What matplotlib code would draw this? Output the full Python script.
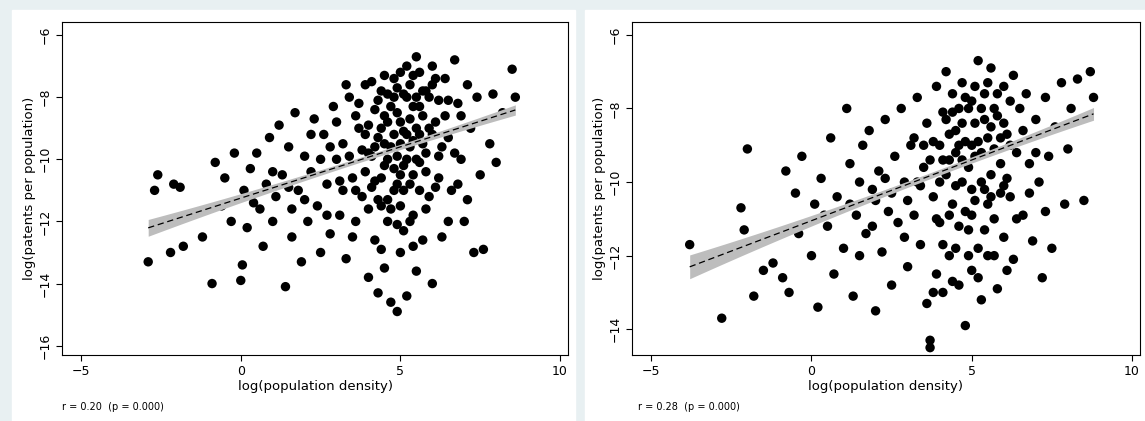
import numpy as np
import matplotlib
matplotlib.use("Agg")
import matplotlib.pyplot as plt
from matplotlib.patches import Rectangle

left_pts = [(-2.9,-13.3),(-2.7,-11.0),(-2.6,-10.5),(-2.2,-13.0),(-2.1,-10.8),(-1.9,-10.9),(-1.8,-12.8),(-1.2,-12.5),(-0.9,-14.0),(-0.8,-10.1),(-0.6,-11.5),(-0.5,-10.6),(-0.3,-12.0),(-0.2,-9.8),(0.0,-13.9),(0.05,-13.4),(0.1,-11.0),(0.2,-12.2),(0.3,-10.3),(0.5,-9.8),(0.6,-11.6),(0.7,-12.8),(0.8,-10.8),(0.9,-9.3),(1.0,-12.0),(1.1,-11.2),(1.2,-8.9),(1.3,-10.5),(1.4,-14.1),(1.5,-9.6),(1.6,-12.5),(1.7,-8.5),(1.8,-11.0),(1.9,-13.3),(2.0,-9.9),(2.1,-12.0),(2.2,-10.4),(2.3,-8.7),(2.4,-11.5),(2.5,-13.0),(2.6,-9.2),(2.7,-10.8),(2.8,-12.4),(2.9,-8.3),(3.0,-10.0),(3.1,-11.8),(3.2,-9.5),(3.3,-13.2),(3.4,-8.0),(3.5,-10.6),(3.6,-12.0),(3.7,-9.0),(3.8,-11.2),(3.9,-7.6),(4.0,-13.8),(4.0,-9.8),(4.1,-10.9),(4.2,-8.4),(4.2,-12.6),(4.3,-14.3),(4.3,-9.3),(4.4,-11.5),(4.4,-7.8),(4.5,-10.2),(4.5,-13.5),(4.6,-8.8),(4.6,-12.0),(4.7,-14.6),(4.7,-9.6),(4.8,-7.4),(4.8,-11.0),(4.9,-14.9),(4.9,-8.5),(5.0,-10.5),(5.0,-13.0),(5.0,-7.2),(5.1,-9.1),(5.1,-12.3),(5.2,-8.0),(5.2,-14.4),(5.3,-10.8),(5.3,-7.6),(5.4,-11.8),(5.4,-9.4),(5.5,-6.7),(5.5,-13.6),(5.6,-8.3),(5.6,-10.1),(5.7,-12.6),(5.8,-7.8),(5.8,-9.8),(5.9,-11.2),(6.0,-7.0),(6.0,-14.0),(6.1,-8.8),(6.2,-10.6),(6.3,-12.5),(6.4,-7.4),(6.5,-9.3),(6.6,-11.0),(6.7,-6.8),(6.8,-8.2),(6.9,-10.0),(7.0,-12.0),(7.1,-7.6),(7.2,-9.0),(7.3,-13.0),(7.4,-8.0),(7.5,-10.5),(7.6,-12.9),(7.8,-9.5),(7.9,-7.9),(8.0,-10.1),(8.2,-8.5),(8.5,-7.1),(8.6,-8.0),
(3.6,-8.6),(3.8,-9.7),(3.9,-10.4),(4.0,-8.9),(4.1,-7.5),(4.1,-9.9),(4.2,-10.7),(4.3,-8.1),(4.3,-11.3),(4.4,-9.0),(4.5,-7.3),(4.5,-8.6),(4.6,-10.0),(4.6,-7.9),(4.7,-8.3),(4.7,-11.6),(4.8,-9.2),(4.8,-10.3),(4.9,-7.7),(4.9,-9.9),(5.0,-8.8),(5.0,-11.5),(5.1,-7.9),(5.1,-10.2),(5.2,-9.2),(5.2,-7.0),(5.3,-8.7),(5.3,-12.0),(5.4,-7.3),(5.4,-10.5),(5.5,-8.0),(5.5,-9.0),(5.6,-7.2),(5.6,-11.0),(5.7,-8.6),(5.7,-9.5),(5.8,-10.4),(5.9,-8.0),(6.0,-9.2),(6.0,-7.6),(6.1,-10.9),(6.2,-8.1),(6.3,-9.6),(6.4,-8.6),(3.0,-8.8),(3.2,-11.0),(3.4,-9.9),(3.5,-12.5),(2.5,-10.0),(2.0,-11.3),(1.5,-10.9),(1.0,-10.4),(2.8,-9.6),(3.3,-7.6),
(3.7,-8.2),(3.9,-9.2),(4.0,-11.6),(4.2,-9.6),(4.4,-10.6),(4.5,-9.5),(4.6,-11.3),(4.8,-8.0),(4.9,-10.8),(5.0,-9.5),(5.1,-11.0),(5.2,-10.0),(5.3,-9.6),(5.4,-8.3),(5.5,-10.0),(5.6,-9.2),(5.7,-7.8),(5.8,-11.6),(5.9,-9.0),(6.1,-7.4),(6.2,-9.9),(6.5,-8.1),(6.7,-9.8),(6.9,-8.6),(7.1,-11.3),(6.5,-12.0),(3.1,-10.7),(3.6,-11.0),(2.7,-11.8),(2.2,-9.2),(1.6,-11.6),(0.4,-11.4),(4.4,-12.9),(5.4,-12.8),(4.9,-12.1),(6.8,-10.8)]
right_pts = [(-3.8,-11.7),(-2.8,-13.7),(-2.2,-10.7),(-2.1,-11.3),(-2.0,-9.1),(-1.8,-13.1),(-1.5,-12.4),(-1.2,-12.2),(-0.9,-12.6),(-0.8,-9.7),(-0.7,-13.0),(-0.5,-10.3),(-0.4,-11.4),(-0.3,-9.3),(0.0,-12.0),(0.1,-10.6),(0.2,-13.4),(0.3,-9.9),(0.5,-11.2),(0.6,-8.8),(0.7,-12.5),(0.8,-10.4),(1.0,-11.8),(1.1,-8.0),(1.2,-9.5),(1.3,-13.1),(1.4,-10.9),(1.5,-12.0),(1.6,-9.0),(1.7,-11.4),(1.8,-8.6),(1.9,-10.2),(2.0,-13.5),(2.1,-9.7),(2.2,-11.9),(2.3,-8.3),(2.4,-10.8),(2.5,-12.8),(2.6,-9.3),(2.7,-11.1),(2.8,-8.0),(2.9,-10.0),(3.0,-12.3),(3.1,-9.0),(3.2,-10.9),(3.3,-7.7),(3.4,-11.7),(3.5,-9.6),(3.6,-13.3),(3.6,-8.4),(3.7,-14.3),(3.7,-14.5),(3.8,-10.4),(3.9,-7.4),(3.9,-12.5),(4.0,-9.0),(4.0,-11.1),(4.1,-8.1),(4.1,-13.0),(4.2,-9.8),(4.2,-7.0),(4.3,-12.0),(4.3,-8.7),(4.4,-10.6),(4.4,-7.6),(4.5,-11.8),(4.5,-9.2),(4.6,-8.0),(4.6,-12.8),(4.7,-10.0),(4.7,-7.3),(4.8,-13.9),(4.8,-8.9),(4.9,-11.3),(4.9,-9.6),(5.0,-7.8),(5.0,-12.4),(5.1,-10.5),(5.1,-8.4),(5.2,-6.7),(5.2,-11.8),(5.3,-9.2),(5.3,-13.2),(5.4,-7.6),(5.4,-10.2),(5.5,-8.8),(5.5,-12.0),(5.6,-6.9),(5.6,-9.8),(5.7,-11.0),(5.8,-8.2),(5.8,-12.9),(5.9,-9.5),(6.0,-7.4),(6.0,-11.5),(6.1,-8.7),(6.2,-10.4),(6.3,-7.1),(6.3,-12.1),(6.4,-9.2),(6.5,-8.0),(6.6,-10.9),(6.7,-7.6),(6.8,-9.5),(6.9,-11.6),(7.0,-8.3),(7.1,-10.0),(7.2,-12.6),(7.3,-7.7),(7.4,-9.3),(7.5,-11.8),(7.6,-8.5),(7.8,-7.3),(7.9,-10.6),(8.0,-9.1),(8.1,-8.0),(8.3,-7.2),(8.5,-10.5),(8.7,-7.0),(8.8,-7.7),
(3.5,-9.0),(3.8,-8.9),(4.0,-10.0),(4.2,-8.3),(4.3,-9.4),(4.4,-8.1),(4.5,-10.1),(4.6,-9.0),(4.7,-8.4),(4.8,-7.7),(4.8,-10.8),(4.9,-8.0),(5.0,-9.0),(5.0,-10.9),(5.1,-7.4),(5.2,-8.9),(5.3,-10.0),(5.4,-8.3),(5.5,-7.3),(5.5,-10.6),(5.6,-8.5),(5.7,-9.1),(5.8,-7.6),(5.9,-10.3),(6.0,-8.4),(6.1,-9.9),(6.2,-7.8),(3.0,-10.5),(3.2,-8.8),(2.5,-10.3),(2.0,-10.5),(1.5,-10.0),(3.4,-10.1),(4.1,-11.7),(4.6,-11.2),
(3.7,-9.4),(3.9,-11.0),(4.1,-9.4),(4.3,-10.9),(4.5,-8.6),(4.7,-9.4),(4.9,-12.0),(5.0,-10.2),(5.1,-9.3),(5.3,-8.0),(5.4,-11.3),(5.6,-10.4),(5.7,-8.0),(5.9,-8.8),(6.0,-10.1),(6.2,-9.0),(6.4,-11.0),(6.6,-8.6),(6.8,-10.3),(7.0,-9.2),(7.3,-10.8),(2.9,-11.5),(3.3,-10.0),(2.3,-9.9),(1.9,-11.2),(1.2,-10.6),(0.4,-10.9),(4.4,-12.7),(5.2,-12.6),(3.8,-13.0),(6.1,-12.4),(5.7,-12.0)]

left_fit = (-11.25, 0.33)   # intercept, slope
right_fit = (-11.05, 0.33)
left_text = "r = 0.20  (p = 0.000)"
right_text = "r = 0.28  (p = 0.000)"
left_yticks = [-16, -14, -12, -10, -8, -6]
right_yticks = [-14, -12, -10, -8, -6]
xticks = [-5, 0, 5, 10]

W, H = 1145, 421
fig = plt.figure(figsize=(W/100, H/100), dpi=100)
fig.patch.set_facecolor("#e8f0f2")
fig.patches.append(Rectangle((12/W, 0), 563/W, 411/H, transform=fig.transFigure, color="white", zorder=-5))
fig.patches.append(Rectangle((585/W, 0), 560/W, 411/H, transform=fig.transFigure, color="white", zorder=-5))

def panel(rect, pts, fit, ylim, yticks, txt, txtx):
    ax = fig.add_axes(rect)
    ax.set_facecolor("white")
    x = np.array([p[0] for p in pts]); y = np.array([p[1] for p in pts])
    ax.scatter(x, y, s=46, color="black", edgecolors="none", zorder=3)
    xs = np.linspace(x.min(), x.max(), 100)
    yl = fit[0] + fit[1]*xs
    xm = 4.0
    hw = 0.08 + 0.004*(xs-xm)**2
    ax.fill_between(xs, yl-hw, yl+hw, color="#bdbdbd", zorder=4, lw=0)
    ax.plot(xs, yl, color="black", ls=(0, (5, 3)), lw=0.9, zorder=5)
    ax.set_xlim(-5.6, 10.25); ax.set_ylim(*ylim)
    ax.set_xticks(xticks); ax.set_yticks(yticks)
    ax.tick_params(labelsize=9, direction="out", length=4, width=0.8)
    for lab in ax.get_yticklabels():
        lab.set_rotation(90); lab.set_va("center")
    ax.set_xlabel("log(population density)", fontsize=9.5, labelpad=1)
    ax.set_ylabel("log(patents per population)", fontsize=9.5, labelpad=2)
    for s in ax.spines.values():
        s.set_linewidth(0.8)
    fig.text(txtx/W, 1-407/H, txt, fontsize=7, va="center")
    return ax

panel([62/W, 1-355/H, 506/W, 333/H], left_pts, left_fit, (-16.3, -5.58), left_yticks, left_text, 62)
panel([632/W, 1-355/H, 508/W, 333/H], right_pts, right_fit, (-14.7, -5.65), right_yticks, right_text, 638)
fig.savefig("out.png", dpi=100, facecolor=fig.get_facecolor())
